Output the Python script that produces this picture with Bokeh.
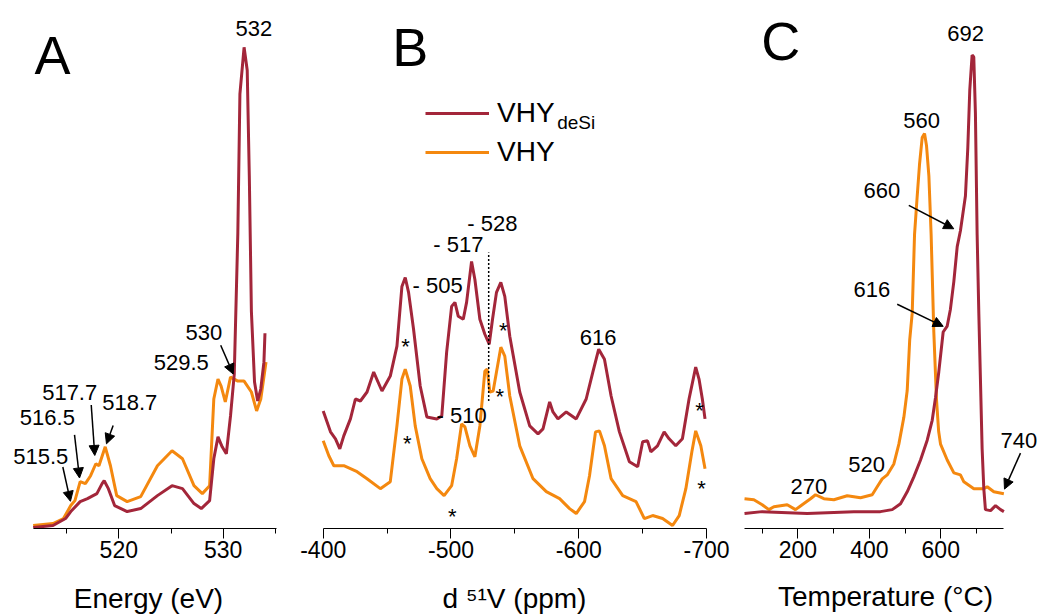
from bokeh.plotting import figure
from bokeh.layouts import row
from bokeh.models import Range1d, FixedTicker, Label, Arrow, NormalHead, Legend, LegendItem
from bokeh.embed import file_html
from bokeh.resources import INLINE

MAROON = "#A3263A"
ORANGE = "#F4880F"
FONT = "Liberation Sans"

# ---------------- Panel A : energy (eV) vs intensity (a.u.) ----------------
a_energy_desi = [511.8, 513.7, 514.9, 515.4, 516.3, 517.0, 517.9, 518.4, 518.6, 519.0, 519.6,
                 520.8, 522.1, 523.7, 525.1, 526.1, 527.2, 527.9, 528.7, 529.1, 529.5, 529.9,
                 530.3, 530.7, 531.06, 531.4, 531.6, 532.0, 532.3, 532.5, 532.7, 533.0, 533.3,
                 533.6, 533.9, 534.0]
a_int_desi = [1, 3, 10, 17, 27, 30, 35, 45, 48, 40, 23, 17, 20, 33, 43, 40, 25, 20, 28, 70, 92,
              82, 75, 113, 155, 296, 436, 483, 460, 354, 218, 147, 128, 140, 167, 196]
a_energy_vhy = [511.8, 513.7, 514.7, 515.4, 515.8, 516.3, 516.8, 517.3, 517.8, 518.1, 518.7,
                519.2, 519.8, 520.8, 522.1, 523.7, 525.1, 526.1, 527.2, 528.0, 528.7, 529.1,
                529.5, 529.8, 530.2, 530.7, 531.4, 532.0, 532.7, 533.2, 533.6, 534.1]
a_int_vhy = [3, 5, 10, 23, 28, 47, 45, 53, 65, 63, 82, 63, 33, 27, 32, 63, 78, 70, 43, 35, 43,
             130, 150, 143, 127, 152, 148, 148, 137, 118, 130, 167]
a_axis = (511.8, 535.1)
a_ticks = [520, 530]
a_minor = [515, 525, 535]
a_ann_text = ["532", "530", "529.5", "518.7", "517.7", "516.5", "515.5"]
a_ann_x = [531.18, 526.39, 523.35, 518.41, 512.66, 510.52, 509.89]
a_ann_y = [502, 196.8, 166.8, 126, 136.8, 111.8, 71.8]
a_arrow_x0 = [529.76, 519.46, 517.36, 515.76, 514.64]
a_arrow_y0 = [184, 103.3, 124, 94, 61.7]
a_arrow_x1 = [530.96, 518.82, 517.70, 516.24, 515.37]
a_arrow_y1 = [155, 85, 73.3, 50.7, 27.3]

# ---------------- Panel B : 51V shift (ppm) ----------------
b_ppm_desi = [-400, -405.7, -409.6, -413, -416.1, -421.3, -425.2, -429.1, -434.3, -439.5, -446,
              -452.5, -457.7, -461.6, -464.2, -466.8, -470.7, -475.9, -481.1, -488.9, -492.8,
              -496.6, -500.5, -503.1, -505.7, -509.6, -512.2, -516.1, -518.7, -522.6, -526.5,
              -529.9, -532.5, -535.6, -539, -542.1, -546, -553.8, -561.6, -568.1, -572, -577.2,
              -579.8, -583.7, -590.2, -598, -605.8, -611, -615.6, -620.1, -625.3, -631.8,
              -639.6, -646.1, -650, -653.8, -656.4, -661.6, -666.8, -670.7, -675.9, -681.1,
              -686.3, -691.5, -694.1, -696.7, -698.8]
b_int_desi = [118, 97, 90, 80, 93, 110, 130, 128, 137, 157, 138, 153, 183, 243, 252, 237, 200,
              143, 112, 110, 113, 177, 223, 227, 213, 210, 227, 268, 250, 210, 195, 185, 210,
              237, 247, 233, 193, 137, 103, 95, 100, 127, 117, 110, 117, 110, 130, 157, 180,
              170, 133, 97, 67, 62, 87, 88, 77, 83, 97, 90, 83, 90, 130, 162, 150, 130, 110]
b_ppm_vhy = [-400, -404.4, -408.3, -416.1, -426.5, -434.3, -444.7, -452.5, -457.7, -461.6,
             -464.2, -468.1, -472, -477.2, -483.7, -488.9, -494.6, -500.5, -504.4, -508.3,
             -510.9, -514.8, -518.7, -522.6, -526.5, -528.3, -530.4, -533, -535.6, -539,
             -542.1, -546, -553.8, -564.2, -574.6, -585, -592.8, -598, -604.5, -608.4, -613.1,
             -616.2, -620.1, -625.3, -634.4, -644.8, -651.3, -657.8, -665.6, -673.4, -678.6,
             -683.8, -688.5, -691.5, -695.5, -698.8]
b_int_vhy = [88, 73, 63, 63, 57, 50, 40, 47, 103, 150, 160, 143, 103, 70, 50, 40, 33, 43, 70,
             105, 102, 83, 72, 103, 158, 160, 137, 138, 157, 182, 173, 133, 83, 50, 37, 30, 20,
             15, 27, 53, 97, 98, 83, 50, 33, 27, 10, 13, 10, 3, 13, 40, 77, 98, 83, 60]
b_axis = (-700, -400)
b_ticks = [-400, -500, -600, -700]
b_minor = [-450, -550, -650]
b_tick_labels = ["-400", "-500", "-600", "-700"]
b_dash_x = -529.5
b_dash_y = [128, 277]
b_ann_text = ["- 528", "- 517", "- 505", "- 510", "616"]
b_ann_x = [-512.7, -486.1, -469.9, -488.7, -600.8]
b_ann_y = [306, 285, 244, 113.4, 191.8]
b_star_x = [-464.4, -540.9, -465.7, -538.2, -501, -694.5, -696.1]
b_star_y = [182.7, 198.7, 85.4, 132.1, 12.1, 118.1, 39.7]

# ---------------- Panel C : temperature (oC) ----------------
c_temp_desi = [50.5, 100, 226, 356.6, 431, 464, 487.3, 506, 524.6, 543.3, 562, 576, 585.3,
               594.5, 606.7, 618, 627, 636.6, 646, 655, 669, 675.6, 681.2, 687.7, 692.4, 697,
               701.8, 706.5, 715.8, 720.5, 725, 739.4, 753.3, 767.4, 776.7]
c_int_desi = [15, 17, 15, 17, 17, 19, 25, 37, 52, 69, 89, 109, 132, 158, 198, 204, 221, 249,
              284, 300, 335, 383, 442, 477, 475, 418, 296, 217, 80, 40, 19, 18, 23, 19, 17]
c_temp_vhy = [50.5, 76.7, 100, 118.7, 132.7, 170, 193.3, 212, 235.3, 249.3, 272.6, 300.6, 338,
              375.3, 408, 422, 436, 450, 468.6, 482.6, 496.6, 506, 513, 520, 526.5, 534, 540.5,
              548, 554.5, 560, 566.7, 573, 580.5, 588, 594, 599.3, 618, 636.6, 655, 664.6,
              692.6, 702, 720.5, 730, 748.5, 776.6]
c_int_vhy = [30, 29, 24, 19, 22, 24, 19, 24, 30, 34, 30, 29, 33, 31, 34, 42, 50, 54, 65, 85,
             112, 139, 190, 217, 296, 335, 367, 394, 398, 386, 355, 296, 198, 130, 98, 85, 69,
             56, 54, 47, 40, 40, 40, 42, 37, 35]
c_axis = (50, 776)
c_ticks = [200, 400, 600]
c_minor = [100, 300, 500, 700]
c_ann_text = ["692", "560", "660", "616", "520", "270", "740"]
c_ann_x = [618.0, 494.8, 383.6, 355.6, 340.8, 179.2, 767.2]
c_ann_y = [498.7, 411.1, 340.1, 241.1, 64.1, 42.5, 88.5]
c_arrow_x0 = [510.5, 478, 823.2]
c_arrow_y0 = [325.6, 226, 76]
c_arrow_x1 = [636.4, 606.8, 778.4]
c_arrow_y1 = [302, 203.7, 39.7]


def make_fig(width, bottom, xr, yr, bounds, ticks, minor, xlabel, label_standoff):
    p = figure(width=width, height=616, output_backend="svg", toolbar_location=None,
               x_range=xr, y_range=yr, y_axis_location=None,
               min_border_left=0, min_border_right=0, min_border_top=0,
               min_border_bottom=bottom)
    p.grid.visible = False
    p.outline_line_color = None
    ax = p.xaxis[0]
    ax.bounds = bounds
    ax.ticker = FixedTicker(ticks=ticks, minor_ticks=minor)
    ax.major_tick_out = 10
    ax.major_tick_in = 0
    ax.minor_tick_out = 5
    ax.minor_tick_in = 0
    ax.axis_line_color = "black"
    ax.major_tick_line_color = "black"
    ax.minor_tick_line_color = "black"
    ax.major_label_text_font = FONT
    ax.major_label_text_font_size = "23px"
    ax.major_label_text_color = "black"
    ax.major_label_standoff = 2
    ax.axis_label = xlabel
    ax.axis_label_text_font = FONT
    ax.axis_label_text_font_size = "28px"
    ax.axis_label_text_font_style = "normal"
    ax.axis_label_text_color = "black"
    ax.axis_label_standoff = label_standoff
    return p


def add_texts(p, xs, ys, texts, size="22px", align="left"):
    for x, y, t in zip(xs, ys, texts):
        p.add_layout(Label(x=x, y=y, text=t, text_font=FONT, text_font_size=size,
                           text_align=align, text_baseline="alphabetic", text_color="black"))


def add_arrows(p, x0s, y0s, x1s, y1s):
    for x0, y0, x1, y1 in zip(x0s, y0s, x1s, y1s):
        p.add_layout(Arrow(end=NormalHead(size=10, fill_color="black", line_color="black"),
                           x_start=x0, y_start=y0, x_end=x1, y_end=y1,
                           line_color="black", line_width=1.5))


# Panel A
pA = make_fig(296, 86, Range1d(508.67, 537.02), Range1d(0, 530), a_axis, a_ticks, a_minor,
              "Energy (eV)", 22)
pA.line(a_energy_vhy, a_int_vhy, line_color=ORANGE, line_width=3)
pA.line(a_energy_desi, a_int_desi, line_color=MAROON, line_width=3)
add_texts(pA, a_ann_x, a_ann_y, a_ann_text)
add_arrows(pA, a_arrow_x0, a_arrow_y0, a_arrow_x1, a_arrow_y1)
add_texts(pA, [511.93], [475], ["A"], size="54px")

# Panel B
pB = make_fig(436, 86, Range1d(-379.1, -720.3), Range1d(0, 530), b_axis, b_ticks, b_minor,
              "d \u2075\u00b9V (ppm)", 22)
pB.xaxis[0].major_label_overrides = {t: s for t, s in zip(b_ticks, b_tick_labels)}
rB_desi = pB.line(b_ppm_desi, b_int_desi, line_color=MAROON, line_width=3)
rB_vhy = pB.line(b_ppm_vhy, b_int_vhy, line_color=ORANGE, line_width=3)
pB.segment(x0=[b_dash_x], y0=[b_dash_y[0]], x1=[b_dash_x], y1=[b_dash_y[1]],
           line_color="black", line_width=1.5, line_dash="2 2")
add_texts(pB, b_ann_x, b_ann_y, b_ann_text)
add_texts(pB, b_star_x, b_star_y, ["*"] * len(b_star_x), align="center")
add_texts(pB, [-454.0], [483], ["B"], size="54px")
legend = Legend(items=[LegendItem(label="VHY", renderers=[rB_desi]),
                       LegendItem(label="VHY", renderers=[rB_vhy])],
                location=(129, 360), glyph_width=64, glyph_height=32, label_height=32,
                label_standoff=8, spacing=7, padding=0, margin=0,
                border_line_color=None, background_fill_alpha=0,
                label_text_font=FONT, label_text_font_size="28px", label_text_color="black")
pB.add_layout(legend)
add_texts(pB, [-583.1], [407.7], ["deSi"], size="19px")

# Panel C
pC = make_fig(306, 84, Range1d(16.85, 873.6), Range1d(0, 532), c_axis, c_ticks, c_minor,
              "Temperature (\u00b0C)", 20)
pC.line(c_temp_vhy, c_int_vhy, line_color=ORANGE, line_width=3)
pC.line(c_temp_desi, c_int_desi, line_color=MAROON, line_width=3)
add_texts(pC, c_ann_x, c_ann_y, c_ann_text)
add_arrows(pC, c_arrow_x0, c_arrow_y0, c_arrow_x1, c_arrow_y1)
add_texts(pC, [97.5], [491.5], ["C"], size="54px")

layout = row(pA, pB, pC)
open("out.html", "w").write(file_html(layout, INLINE))
